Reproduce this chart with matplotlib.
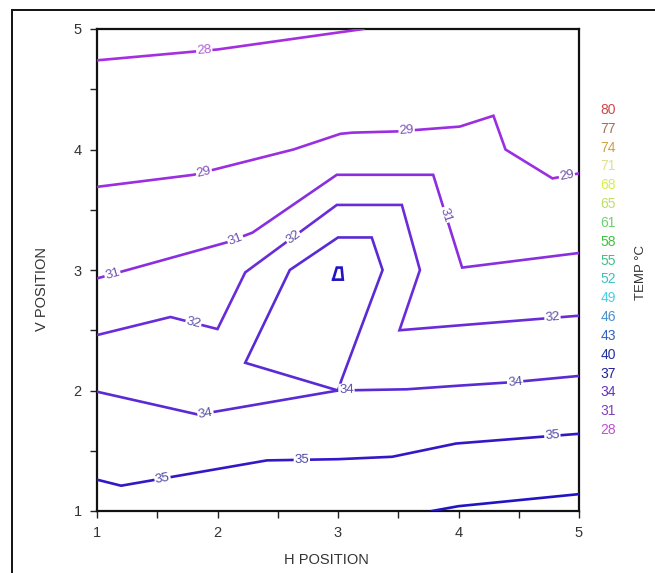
import numpy as np
import matplotlib
matplotlib.use("Agg")
import matplotlib.pyplot as plt
from matplotlib.patches import Rectangle

plt.rcParams['font.family'] = ['Liberation Sans', 'DejaVu Sans']

# contour paths (H position, V position)
line28_x = [1.0, 2.0, 3.21]
line28_y = [4.74, 4.83, 5.0]
line29_x = [1.0, 1.80, 2.63, 3.02, 3.12, 3.49, 4.01, 4.29, 4.39, 4.78, 4.99]
line29_y = [3.69, 3.79, 4.00, 4.13, 4.14, 4.15, 4.19, 4.28, 4.00, 3.76, 3.80]
line31_x = [1.0, 2.08, 2.29, 2.99, 3.79, 4.03, 4.99]
line31_y = [2.93, 3.23, 3.31, 3.79, 3.79, 3.02, 3.14]
line32_x = [1.0, 1.61, 2.0, 2.23, 2.99, 3.53, 3.68, 3.51, 4.0, 4.99]
line32_y = [2.46, 2.61, 2.51, 2.98, 3.54, 3.54, 3.0, 2.50, 2.54, 2.62]
line34_x = [1.0, 1.84, 3.0, 3.57, 4.0, 4.46, 4.99]
line34_y = [1.99, 1.80, 2.0, 2.01, 2.04, 2.07, 2.12]
loop34_x = [3.0, 2.23, 2.60, 3.0, 3.28, 3.37, 3.03, 3.0]
loop34_y = [2.0, 2.23, 3.0, 3.27, 3.27, 3.0, 2.09, 2.0]
line35_x = [1.0, 1.2, 2.41, 3.0, 3.45, 3.98, 4.99]
line35_y = [1.26, 1.21, 1.42, 1.43, 1.45, 1.56, 1.64]
line37_x = [3.78, 4.0, 4.5, 5.0]
line37_y = [1.0, 1.04, 1.09, 1.14]
spot37_x = [2.96, 2.99, 3.03, 3.04, 2.96]
spot37_y = [2.92, 3.02, 3.02, 2.92, 2.92]

paths = [
    (line28_x, line28_y, '#a52ee0'),
    (line29_x, line29_y, '#9a2ee0'),
    (line31_x, line31_y, '#8a2ee0'),
    (line32_x, line32_y, '#6a2cd8'),
    (line34_x, line34_y, '#5a2ad4'),
    (loop34_x, loop34_y, '#5a2ad4'),
    (line35_x, line35_y, '#3418c8'),
    (line37_x, line37_y, '#2214c4'),
    (spot37_x, spot37_y, '#2214c4'),
]

# inline labels: (path index, x, y, text, colour)
labels = [
    (0, 1.89, 4.82, '28', '#b060d8'),
    (1, 1.89, 3.80, '29', '#8050b8'),
    (1, 3.57, 4.15, '29', '#8050b8'),
    (1, 4.90, 3.78, '29', '#7050a8'),
    (2, 1.13, 2.96, '31', '#7050b0'),
    (2, 2.15, 3.25, '31', '#7050b0'),
    (2, 3.87, 3.45, '31', '#7050b0'),
    (3, 1.80, 2.56, '32', '#6050a8'),
    (3, 2.63, 3.27, '32', '#6050a8'),
    (3, 4.78, 2.60, '32', '#6050a8'),
    (4, 1.90, 1.81, '34', '#5a50a8'),
    (4, 3.07, 2.00, '34', '#5a50a8'),
    (4, 4.47, 2.07, '34', '#5a50a8'),
    (6, 1.54, 1.29, '35', '#4a48a8'),
    (6, 2.70, 1.42, '35', '#4a48a8'),
    (6, 4.78, 1.61, '35', '#4a48a8'),
]

legend_vals = ['80', '77', '74', '71', '68', '65', '61', '58', '55',
               '52', '49', '46', '43', '40', '37', '34', '31', '28']
legend_cols = ['#d04848', '#a07058', '#d0a048', '#e0e090', '#d8f048', '#c0e060',
               '#70d070', '#40c040', '#40c088', '#40c0c0', '#48d0e0', '#4890d0',
               '#3060c0', '#2030a0', '#2020a0', '#6030c0', '#8040c0', '#c050d0']


def put_label(ax, xs, ys, lx, ly, txt, color):
    pts = ax.transData.transform(np.column_stack([xs, ys]))
    p = ax.transData.transform((lx, ly))
    best = None
    for i in range(len(pts) - 1):
        a, b = pts[i], pts[i + 1]
        d = b - a
        t = np.clip(np.dot(p - a, d) / max(np.dot(d, d), 1e-9), 0, 1)
        q = a + t * d
        dist = np.hypot(*(p - q))
        if best is None or dist < best[0]:
            best = (dist, q, d)
    _, q, d = best
    ang = np.degrees(np.arctan2(d[1], d[0]))
    if ang > 90:
        ang -= 180
    elif ang < -90:
        ang += 180
    qx, qy = ax.transData.inverted().transform(q)
    ax.text(qx, qy, txt, rotation=ang, rotation_mode='anchor', ha='center', va='center',
            fontsize=9.5, color=color, zorder=4,
            bbox=dict(fc='white', ec='none', pad=0.6))


fig = plt.figure(figsize=(6.55, 5.73), dpi=100)
ax = fig.add_axes([97 / 655, 62 / 573, 482 / 655, 482 / 573])
ax.set_xlim(1, 5)
ax.set_ylim(1, 5)

for xs, ys, col in paths:
    ax.plot(xs, ys, color=col, lw=1.9, solid_joinstyle='miter', clip_on=True, zorder=3)

for idx, lx, ly, txt, col in labels:
    put_label(ax, paths[idx][0], paths[idx][1], lx, ly, txt, col)

ax.set_xticks([1, 2, 3, 4, 5])
ax.set_yticks([1, 2, 3, 4, 5])
ax.set_xticks([1.5, 2.5, 3.5, 4.5], minor=True)
ax.set_yticks([1.5, 2.5, 3.5, 4.5], minor=True)
ax.tick_params(which='both', direction='out', length=5, width=1, color='#222222')
ax.tick_params(labelsize=10.5, labelcolor='#333333', pad=6)
for s in ax.spines.values():
    s.set_linewidth(1.6)
    s.set_color('#111111')

fig.text(326 / 655, 1 - 560 / 573, 'H POSITION', ha='center', va='center', fontsize=10.5, color='#333333')
fig.text(42 / 655, 1 - 289 / 573, 'V POSITION', ha='center', va='center', rotation=90,
         fontsize=10.5, color='#333333')

# colour key on the right
for i, (v, c) in enumerate(zip(legend_vals, legend_cols)):
    y = 110 + i * (430 - 110) / (len(legend_vals) - 1)
    fig.text(608 / 655, 1 - y / 573, v, ha='center', va='center', fontsize=10, color=c)
fig.text(641 / 655, 1 - 272 / 573, 'TEMP °C', ha='center', va='center', rotation=90,
         fontsize=9.5, color='#333333')

# outer frame, cut off at right and bottom
fig.patches.append(Rectangle((12 / 655, -0.2), 1.2, 1.2 - 10 / 573, transform=fig.transFigure,
                             fill=False, ec='#111111', lw=1.4))

fig.savefig('out.png', dpi=100)
